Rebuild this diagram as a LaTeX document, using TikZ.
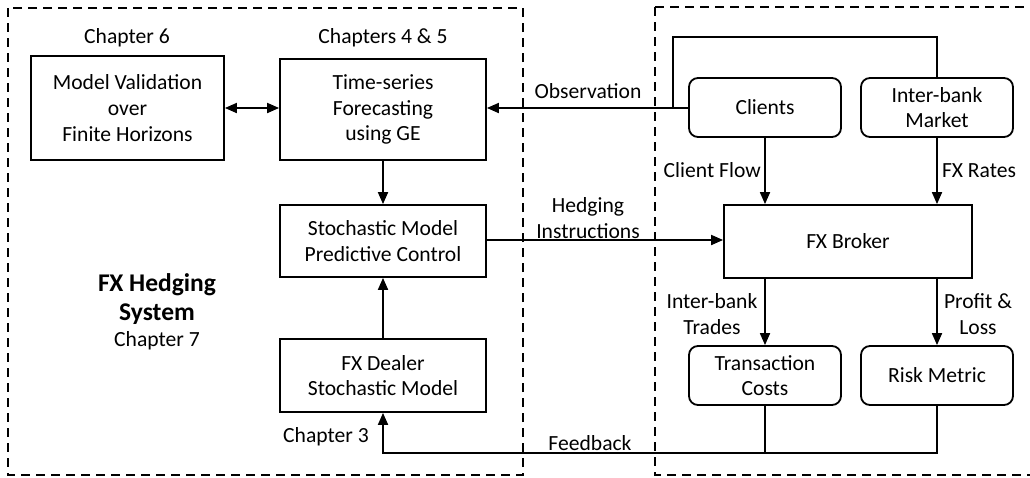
\documentclass[tikz,border=0pt]{standalone}
\usepackage{fontspec}
\setmainfont{Carlito}
\usetikzlibrary{arrows.meta}
\begin{document}
\begin{tikzpicture}[x=1pt,y=-1pt,
  every node/.style={font=\fontsize{21.6}{25.7}\selectfont, align=center, inner sep=0pt},
  sqbox/.style={draw, line width=1.8pt},
  rbox/.style={draw, line width=1.8pt, rounded corners=9pt, minimum width=152pt, minimum height=59pt},
  frame/.style={draw, line width=1.8pt, dash pattern=on 9pt off 6pt},
  conn/.style={line width=1.8pt},
  arr/.style={conn, -{Triangle[length=12pt,width=10pt]}},
  lbl/.style={font=\fontsize{21.6}{25.7}\selectfont}
]
\useasboundingbox (0,0) rectangle (1030,477);
\fill[white] (0,0) rectangle (1030,477);
% frames
\draw[frame] (8,8) rectangle (523,475);
\draw[frame] (655,7) -- (1040,7);
\draw[frame] (655,7) -- (655,475) -- (1040,475);
% left nodes
\node[sqbox, minimum width=193pt, minimum height=104pt] (mv) at (127.5,108) {Model Validation\\over\\Finite Horizons};
\node[sqbox, minimum width=206pt, minimum height=101pt] (ts) at (383,109.5) {Time-series\\Forecasting\\using GE};
\node[sqbox, minimum width=206pt, minimum height=72pt] (mpc) at (383,241) {Stochastic Model\\Predictive Control};
\node[sqbox, minimum width=206pt, minimum height=73pt] (dealer) at (383,375.5) {FX Dealer\\Stochastic Model};
\node (ch6) at (127,38) {Chapter 6};
\node (ch45) at (383,38) {Chapters 4 \& 5};
\node (ch3) at (326,437) {Chapter 3};
\node[font=\fontsize{25.5}{28.5}\selectfont\bfseries] (fxh) at (157,299) {FX Hedging\\System};
\node (ch7) at (157,341) {Chapter 7};
% right nodes
\node[rbox] (clients) at (765,107.5) {Clients};
\node[rbox] (ibm) at (937,107.5) {Inter-bank\\Market};
\node[sqbox, minimum width=248pt, minimum height=73pt] (broker) at (848,241.5) {FX Broker};
\node[rbox] (tc) at (765,375.5) {Transaction\\Costs};
\node[rbox] (rm) at (937,375.5) {Risk Metric};
% coordinates
\coordinate (obsj) at (673,108);
\coordinate (topl) at (673,37);
\coordinate (topr) at (937,37);
\coordinate (fbj) at (765,453);
\coordinate (fbl) at (383,453);
% connectors
\draw[arr, {Triangle[length=12pt,width=10pt]}-{Triangle[length=12pt,width=10pt]}] (mv.east |- 0,108) -- (ts.west |- 0,108);
\draw[arr] (ts.south) -- (mpc.north);
\draw[arr] (dealer.north) -- (mpc.south);
\draw[conn] (ibm.north) -- (topr) -- (topl) -- (obsj);
\draw[arr] (clients.west |- obsj) -- (obsj) -- (ts.east |- obsj);
\node[lbl, anchor=base] (obs) at (588,98) {Observation};
\draw[arr] (clients.south) -- (broker.north -| clients.south);
\draw[arr] (ibm.south) -- (broker.north -| ibm.south);
\node[lbl, anchor=base east] (cf) at (761,177) {Client Flow};
\node[lbl, anchor=base west] (fxr) at (942,177) {FX Rates};
\draw[arr] (mpc.east |- 0,240) -- (broker.west |- 0,240);
\node[lbl] (hi) at (588,218) {Hedging\\Instructions};
\draw[arr] (broker.south -| tc.north) -- (tc.north);
\draw[arr] (broker.south -| rm.north) -- (rm.north);
\node[lbl] (ibt) at (712,314) {Inter-bank\\Trades};
\node[lbl] (pl) at (978,314) {Profit \&\\Loss};
\draw[conn] (rm.south) -- (rm.south |- fbj) -- (fbj);
\draw[arr] (tc.south) -- (fbj) -- (fbl) -- (dealer.south);
\node[lbl, anchor=base] (fb) at (590,450) {Feedback};
\end{tikzpicture}
\end{document}
